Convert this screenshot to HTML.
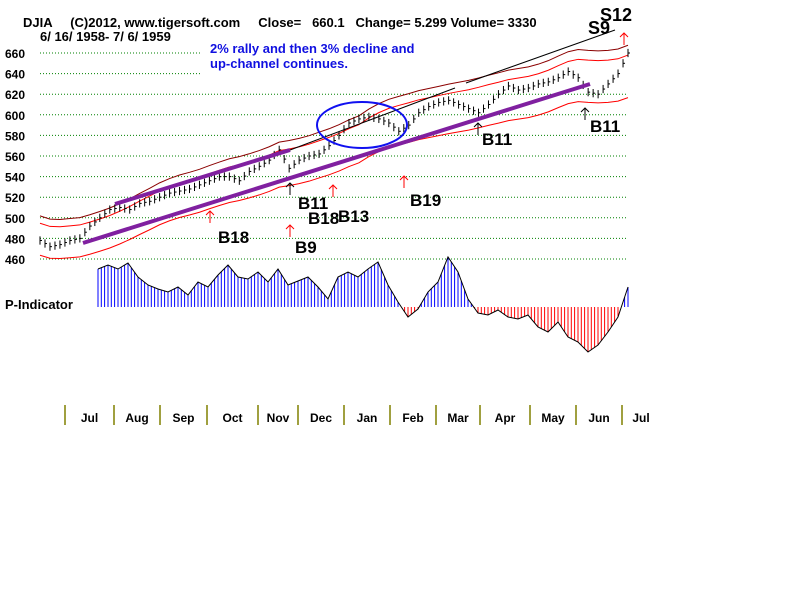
<!DOCTYPE html>
<html><head><meta charset="utf-8"><style>
body{margin:0;background:#fff;width:800px;height:600px;overflow:hidden}
svg text{font-family:"Liberation Sans",Arial,sans-serif;font-weight:bold;white-space:pre}
</style></head><body>
<svg id="c" width="800" height="600">
<text x="23" y="27" font-size="13" xml:space="preserve">DJIA     (C)2012, www.tigersoft.com     Close=   660.1   Change= 5.299 Volume= 3330</text>
<text x="40" y="41" font-size="13" xml:space="preserve">6/ 16/ 1958- 7/ 6/ 1959</text>
<text x="210" y="53" font-size="13" fill="#1010e0">2% rally and then 3% decline and</text>
<text x="210" y="68" font-size="13" fill="#1010e0">up-channel continues.</text>
<text x="5" y="309" font-size="13">P-Indicator</text>
<g id="grid"></g><g id="ind"></g><g id="price"></g><g id="marks"></g>
</svg>
<script>
const yTicks=[660,640,620,600,580,560,540,520,500,480,460];
const months=["Jul","Aug","Sep","Oct","Nov","Dec","Jan","Feb","Mar","Apr","May","Jun","Jul"];
const closes=[478,472,474,478,480,492,500,508,510,508,514,516,520,524,526,528,532,536,540,540,536,545,550,556,566,548,556,560,562,570,580,592,596,598,596,592,584,590,602,608,612,614,610,606,602,610,620,628,624,626,630,632,636,642,636,622,620,630,640,660];
const pind=[38,42,38,44,30,22,18,15,20,12,25,20,32,42,30,28,35,25,38,22,26,30,20,8,30,35,30,38,45,22,5,-10,-2,15,25,50,35,8,-6,-8,-3,-10,-12,-8,-20,-25,-15,-30,-35,-45,-38,-25,-10,20];
const NS="http://www.w3.org/2000/svg";
function el(t,a,p){const e=document.createElementNS(NS,t);for(const k in a)e.setAttribute(k,a[k]);document.getElementById(p).appendChild(e);return e;}
const yP=v=>259-(v-460)*1.03;
const xP=i=>40+i*(628-40)/(closes.length-1);
const xI=i=>98+i*(628-98)/(pind.length-1);
const yI=v=>307-v;
yTicks.forEach(v=>{
 const l=el('line',{x1:40,x2:(v>=640?200:628),y1:yP(v),y2:yP(v),stroke:'#008000','stroke-dasharray':'1,2'},'grid');
 
 const t=el('text',{x:5,y:yP(v)+5,'font-size':12},'grid');t.textContent=v;
 
});
const sep=[65,114,160,207,258,298,344,390,436,480,530,576,622];
months.forEach((m,i)=>{
 const l=el('line',{x1:sep[i],x2:sep[i],y1:405,y2:425,stroke:'#808000','stroke-width':1.5},'grid');
 
 const nx=i<12?sep[i+1]:660;
 const t=el('text',{x:(sep[i]+nx)/2,y:422,'font-size':12,'text-anchor':'middle'},'grid');t.textContent=m;
 
});
let pts=[];
pind.forEach((v,i)=>{
 const x=xI(i);
 for(let k=0;k<3;k++){const xx=x+k*3.3; if(i==pind.length-1&&k>0)break;
  const vv=i<pind.length-1?v+(pind[i+1]-v)*k/3:v;
  const b=el('line',{x1:xx,x2:xx,y1:307,y2:yI(vv),stroke:vv>=0?'#0000ff':'#ff0000'},'ind');
  }
 pts.push(x+','+yI(v));
});
const pl=el('polyline',{points:pts.join(' '),fill:'none',stroke:'#000'},'ind');

const ma=closes.map((c,i)=>{let s=0,n=0;for(let j=Math.max(0,i-7);j<=i;j++){s+=closes[j];n++;}return s/n;});
[[1.035,'#ff0000','upper-band'],[0.97,'#ff0000','lower-band'],[1.05,'#8b0000','outer-upper-band']].forEach(b=>{
 const p=el('polyline',{points:ma.map((m,i)=>xP(i)+','+yP(m*b[0])).join(' '),fill:'none',stroke:b[1]},'price');
 
});
closes.forEach((c,i)=>{
 const x=xP(i);
 for(let k=0;k<2;k++){const xx=x+k*5;const cc=i<closes.length-1?c+(closes[i+1]-c)*k/2:c;if(i==closes.length-1&&k)break;
 const b=el('line',{x1:xx,x2:xx,y1:yP(cc+4),y2:yP(cc-4),stroke:'#000'},'price');
 
 el('line',{x1:xx,x2:xx+2,y1:yP(cc),y2:yP(cc),stroke:'#000'},'price');}
});
const L=(a,n)=>{const l=el('line',a,'marks');return l;};
L({x1:83,y1:243,x2:590,y2:84,stroke:'#8020a0','stroke-width':4},'lower-channel-line');
L({x1:115,y1:204,x2:290,y2:150,stroke:'#8020a0','stroke-width':4},'upper-channel-line');
L({x1:466,y1:83,x2:615,y2:30,stroke:'#000'},'upper-trend-line');
L({x1:290,y1:150,x2:455,y2:88,stroke:'#000'},'upper-trend-line-2');
const e=el('ellipse',{cx:362,cy:125,rx:45,ry:23,fill:'none',stroke:'#1010f0','stroke-width':2},'marks');

[["S12",600,21,18],["S9",588,34,18],["B11",482,145,17],["B11",590,132,17],["B18",218,243,17],["B9",295,253,17],["B11",298,209,17],["B18",308,224,17],["B13",338,222,17],["B19",410,206,17]].forEach(s=>{
 const t=el('text',{x:s[1],y:s[2],'font-size':s[3],fill:'#000'},'marks');t.textContent=s[0];
 
});
[[478,135,'#000'],[585,120,'#000'],[210,223,'#f00'],[290,237,'#f00'],[290,195,'#000'],[333,197,'#f00'],[404,188,'#f00'],[624,45,'#f00']].forEach(a=>{
 const p=el('path',{d:`M${a[0]},${a[1]-12}V${a[1]}M${a[0]-4},${a[1]-8}L${a[0]},${a[1]-12}L${a[0]+4},${a[1]-8}`,fill:'none',stroke:a[2]},'marks');
 
});
</script>
</body></html>
